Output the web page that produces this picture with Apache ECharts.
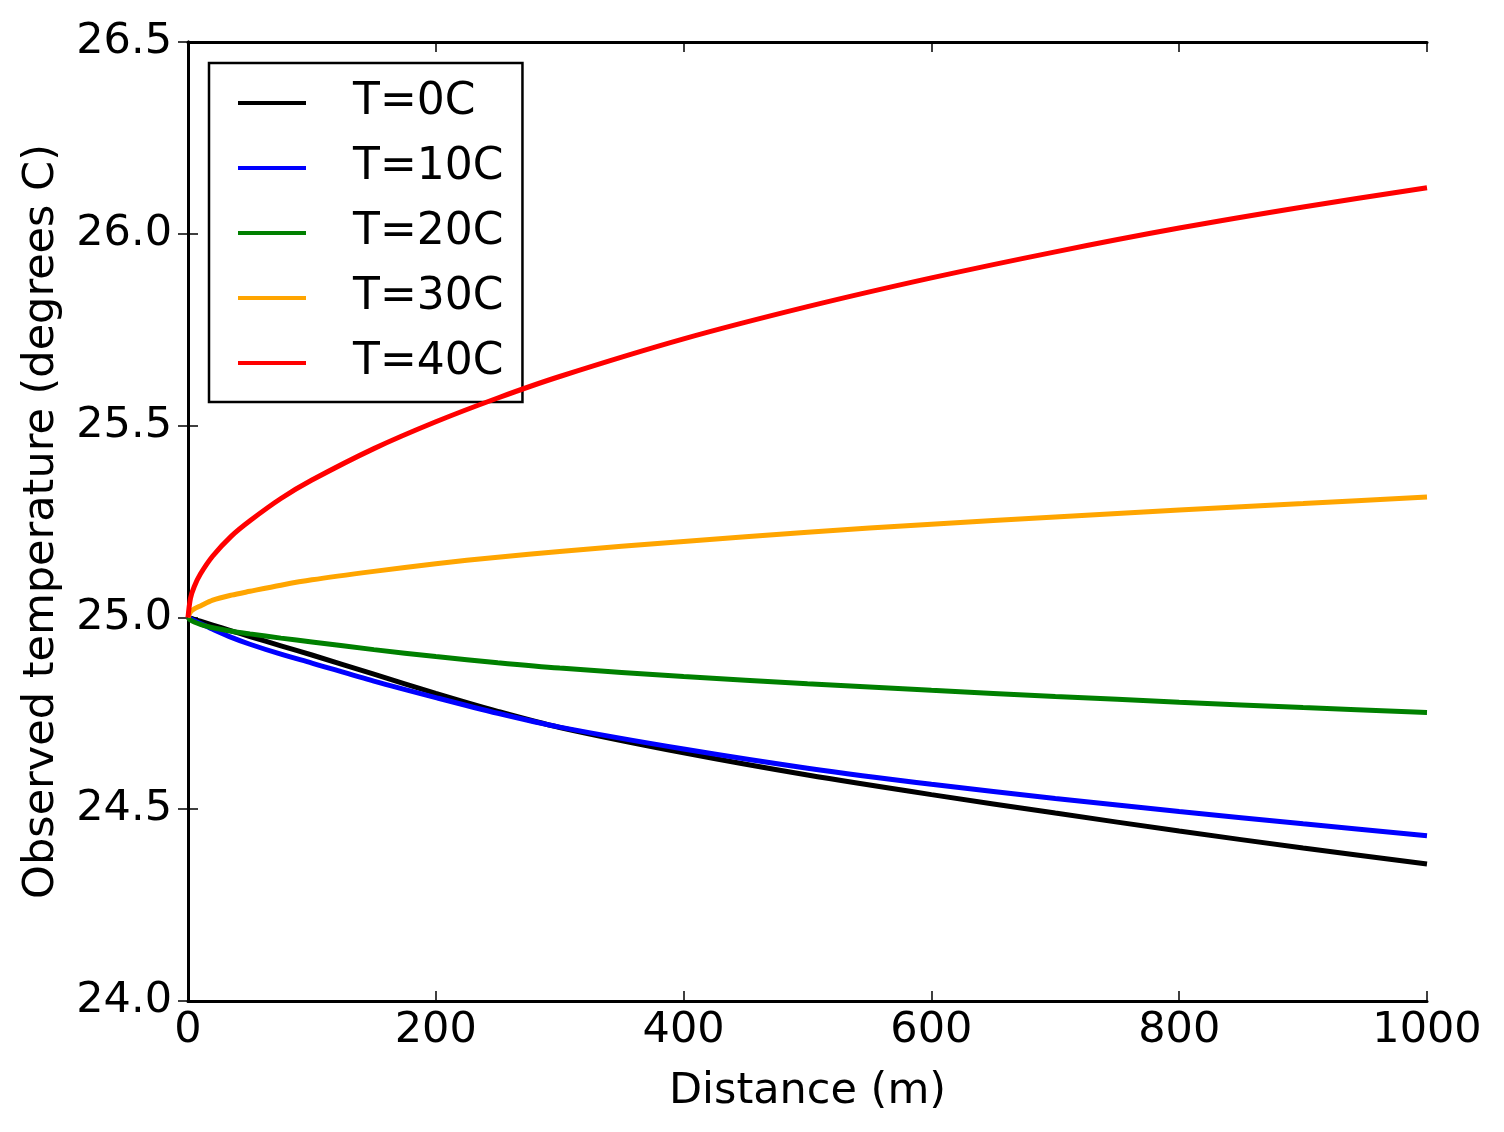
<!DOCTYPE html>
<html>
<head>
<meta charset="utf-8">
<script src="https://cdn.jsdelivr.net/npm/echarts@6/dist/echarts.min.js"></script>
<style>
  html, body { margin: 0; padding: 0; background: #fff; }
  #chart { width: 1504px; height: 1132px; }
</style>
</head>
<body>
<div id="chart"></div>
<script>
// distance along the line (m)
var distance = [0, 2, 5, 10, 20, 35, 50, 75, 100, 150, 200, 250, 300, 400, 500, 600, 700, 800, 900, 1000];

// observed temperature for each source temperature
var t0  = [25.000, 24.998, 24.995, 24.990, 24.980, 24.965, 24.950, 24.926, 24.902, 24.852, 24.802, 24.755, 24.713, 24.647, 24.589, 24.538, 24.490, 24.443, 24.399, 24.357];
var t10 = [25.000, 24.997, 24.992, 24.984, 24.969, 24.948, 24.930, 24.904, 24.881, 24.834, 24.791, 24.750, 24.714, 24.657, 24.607, 24.565, 24.528, 24.494, 24.462, 24.431];
var t20 = [25.000, 24.993, 24.988, 24.982, 24.973, 24.964, 24.957, 24.946, 24.936, 24.916, 24.898, 24.882, 24.868, 24.846, 24.827, 24.810, 24.794, 24.779, 24.765, 24.752];
var t30 = [25.000, 25.014, 25.022, 25.030, 25.045, 25.058, 25.068, 25.084, 25.098, 25.120, 25.140, 25.157, 25.172, 25.198, 25.222, 25.243, 25.262, 25.280, 25.297, 25.314];
var t40 = [25.000, 25.050, 25.080, 25.113, 25.160, 25.212, 25.252, 25.310, 25.358, 25.440, 25.510, 25.572, 25.628, 25.726, 25.810, 25.885, 25.953, 26.015, 26.070, 26.120];

var names  = ['T=0C', 'T=10C', 'T=20C', 'T=30C', 'T=40C'];
var colors = ['#000000', '#0000ff', '#008000', '#ffa500', '#ff0000'];
var values = [t0, t10, t20, t30, t40];

var font = 'DejaVu Sans';

function pairs(ys) {
    var out = [];
    for (var i = 0; i < distance.length; i++) {
        out.push([distance[i], ys[i]]);
    }
    return out;
}

var series = [];
for (var k = 0; k < names.length; k++) {
    series.push({
        name: names[k],
        type: 'line',
        data: pairs(values[k]),
        showSymbol: false,
        smooth: 0.3,
        lineStyle: { color: colors[k], width: 5 },
        itemStyle: { color: colors[k] },
        emphasis: { disabled: true },
        z: 2 + k
    });
}

var spine = { show: true, lineStyle: { color: '#000', width: 3 } };
var tick = { show: true, inside: true, length: 10, lineStyle: { color: '#000', width: 1.5 } };

var chart = echarts.init(document.getElementById('chart'));
chart.setOption({
    animation: false,
    backgroundColor: '#fff',
    grid: { left: 188, right: 77, top: 42, bottom: 131, containLabel: false },
    legend: {
        orient: 'vertical',
        left: 209,
        top: 63,
        data: names,
        icon: 'rect',
        itemWidth: 68,
        itemHeight: 4,
        itemGap: 15,
        padding: [15, 19, 14, 29],
        borderColor: '#000',
        borderWidth: 2.5,
        borderRadius: 0,
        backgroundColor: '#fff',
        textStyle: { fontFamily: font, fontSize: 44, color: '#000', lineHeight: 50, padding: [0, 0, 0, 42] }
    },
    xAxis: [{
        type: 'value',
        min: 0, max: 1000, interval: 200,
        name: 'Distance (m)',
        nameLocation: 'middle',
        nameGap: 69,
        nameTextStyle: { fontFamily: font, fontSize: 43, color: '#000', verticalAlign: 'top' },
        axisLine: spine, axisTick: tick,
        splitLine: { show: false },
        axisLabel: {
            fontFamily: font, fontSize: 43, color: '#000', margin: 8,
            formatter: function (v) { return String(v); }
        }
    }, {
        type: 'value', position: 'top',
        min: 0, max: 1000, interval: 200,
        axisLine: spine, axisTick: tick,
        splitLine: { show: false },
        axisLabel: { show: false }
    }],
    yAxis: [{
        type: 'value',
        min: 24, max: 26.5, interval: 0.5,
        name: 'Observed temperature (degrees C)',
        nameLocation: 'middle',
        nameGap: 125,
        nameTextStyle: { fontFamily: font, fontSize: 43, color: '#000' },
        axisLine: spine, axisTick: tick,
        splitLine: { show: false },
        axisLabel: {
            fontFamily: font, fontSize: 43, color: '#000', margin: 16,
            formatter: function (v) { return v.toFixed(1); }
        }
    }, {
        type: 'value', position: 'right',
        min: 24, max: 26.5, interval: 0.5,
        axisLine: spine, axisTick: tick,
        splitLine: { show: false },
        axisLabel: { show: false }
    }],
    series: series
});
</script>
</body>
</html>
